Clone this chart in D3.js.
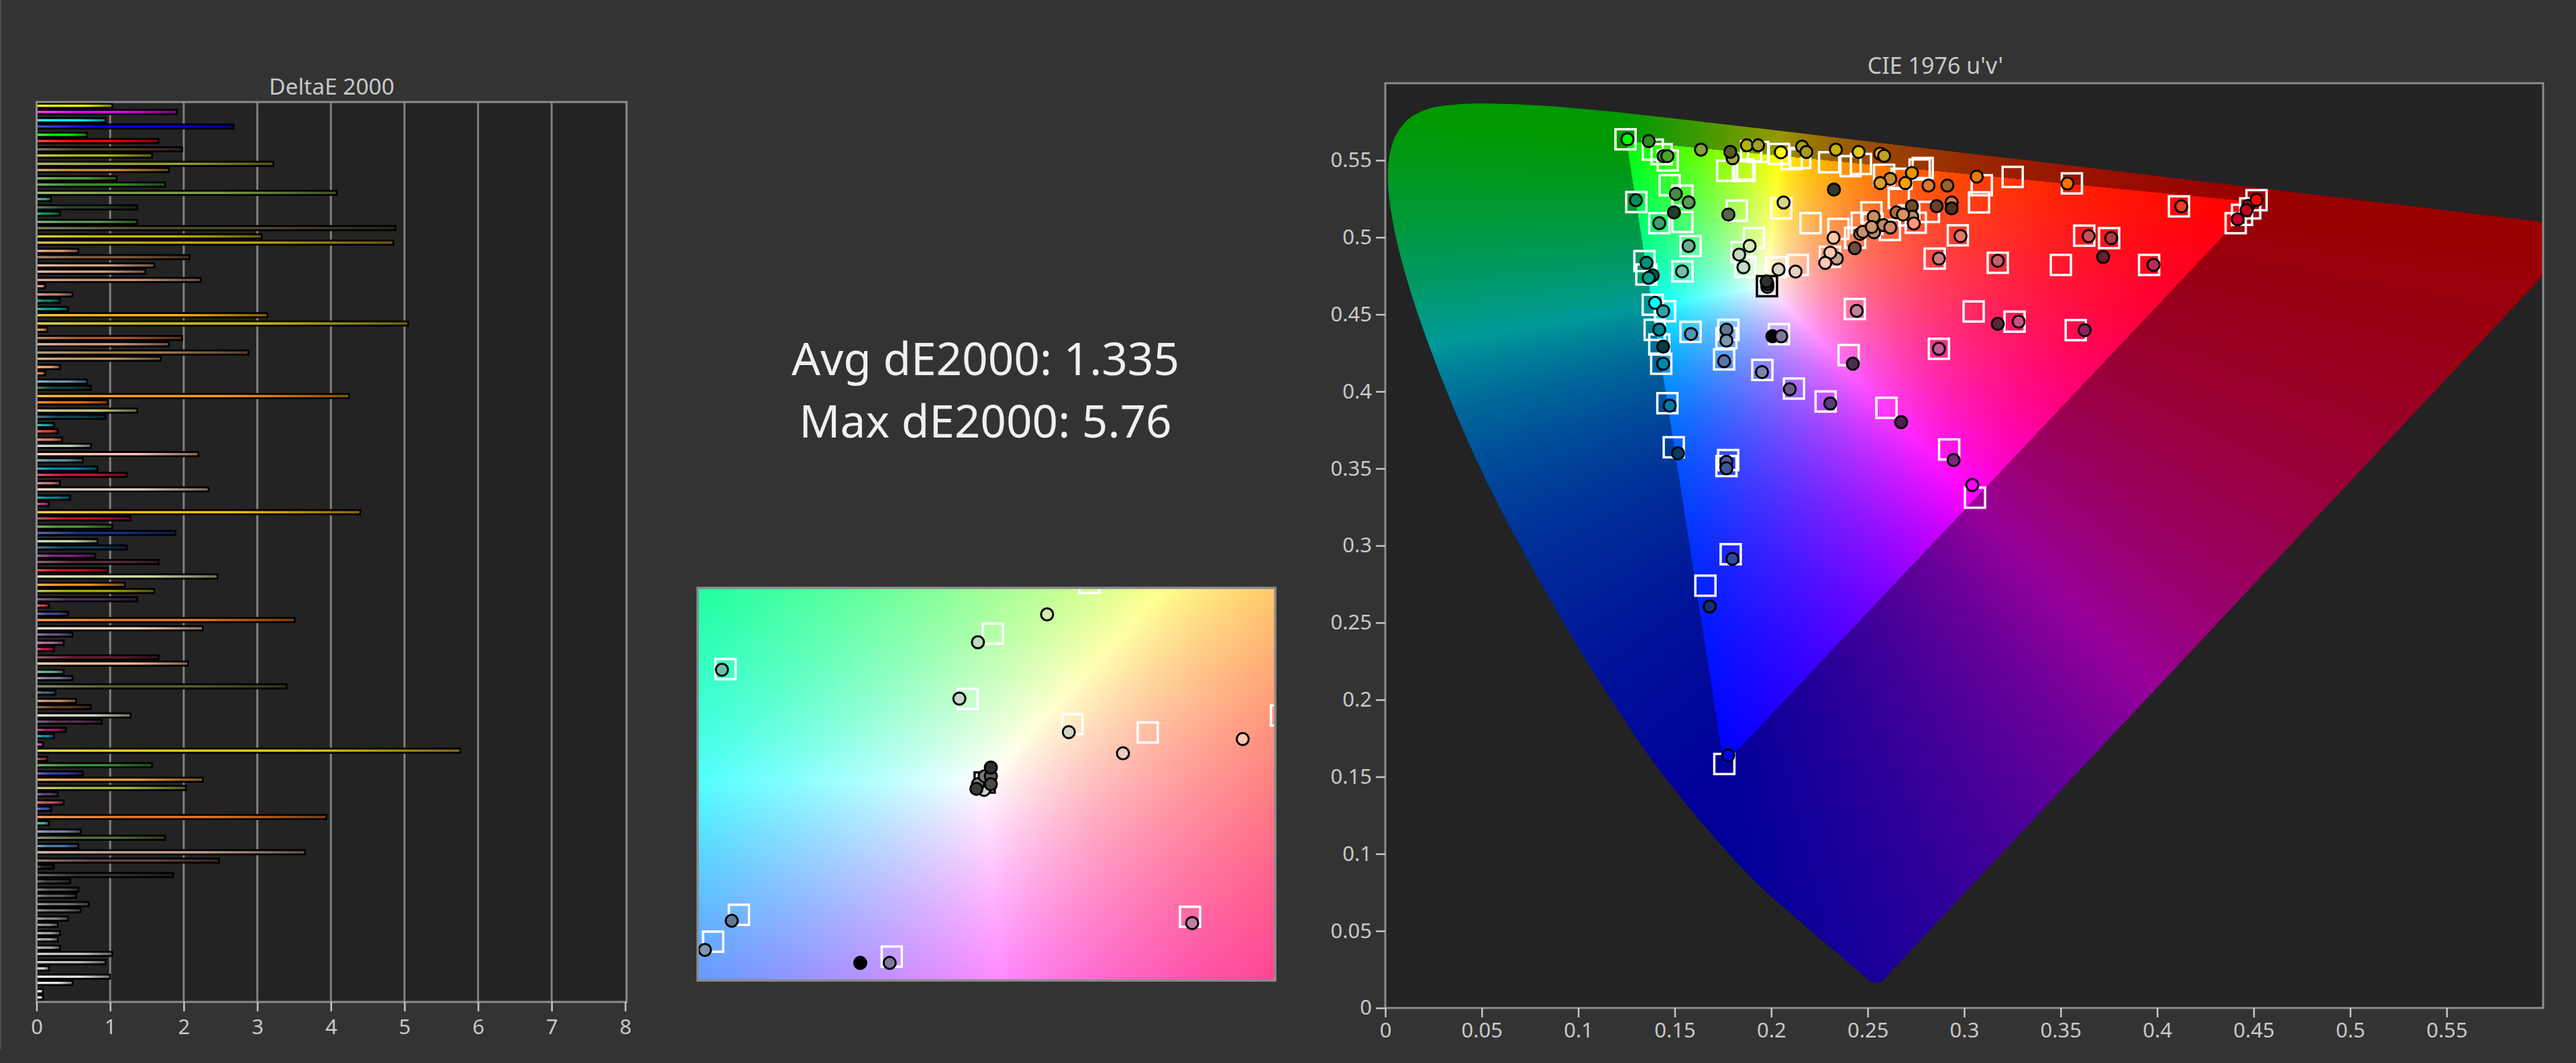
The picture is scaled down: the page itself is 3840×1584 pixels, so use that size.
<!DOCTYPE html>
<html><head><meta charset="utf-8">
<script src="https://cdn.jsdelivr.net/npm/d3@7"></script>
<style>html,body{margin:0;padding:0;background:#333333;overflow:hidden}svg{display:block}text{font-family:"Noto Sans","Open Sans",sans-serif}</style>
</head><body><svg id="c" width="3840" height="1584"></svg>
<script>
// ---------- DeltaE bars ----------
const barValues=[1.04,1.92,0.95,2.69,0.70,1.67,1.99,1.58,3.23,1.81,1.10,1.76,4.09,0.21,1.38,0.33,1.38,4.89,3.07,4.86,0.58,2.09,1.61,1.49,2.24,0.13,0.50,0.33,0.44,3.15,5.06,0.16,1.99,1.81,2.89,1.70,0.33,0.13,0.70,0.75,4.26,0.98,1.38,0.95,0.25,0.30,0.36,0.75,2.21,0.64,0.84,1.24,0.33,2.35,0.47,0.18,4.41,1.29,1.04,1.90,0.84,1.24,0.81,1.67,0.98,2.47,1.21,1.61,1.38,0.18,0.44,3.52,2.27,0.50,0.38,0.25,1.67,2.07,0.38,0.50,3.41,0.27,0.55,0.75,1.29,0.90,0.41,0.25,0.10,5.77,0.16,1.58,0.64,2.27,2.04,0.30,0.38,0.21,3.95,0.18,0.61,1.76,0.58,3.66,2.49,0.25,1.87,0.47,0.58,0.55,0.72,0.61,0.44,0.30,0.33,0.30,0.33,1.04,0.95,0.18,1.01,0.50,0.10,0.10];
const barColors=["#ffff00","#f000f0","#00ffff","#0000ff","#00ff00","#ff0000","#5a3a2a","#b0b810","#a0a030","#c88c3c","#5aa03c","#3c9628","#82a046","#3ca078","#234628","#008c5a","#5a965a","#504b32","#c8b400","#c8a014","#e09678","#825a3c","#d2a082","#d2a082","#c89678","#f09678","#c88264","#00826e","#00a08c","#ffb400","#d2be14","#dc8250","#a05a28","#d2a082","#a07850","#c8915f","#f0a064","#e67832","#6e96b4","#0f4641","#ffa000","#ff6e00","#c8c878","#0f4650","#28a0aa","#ff3c28","#e67864","#c0d2c0","#ffc8aa","#5a96aa","#0082b4","#c8143c","#d27878","#e0cdbe","#00828c","#c83282","#ffbe00","#b41428","#4b962d","#14327d","#bed7af","#0f3c5f","#7d2882","#5f2d41","#d20a1e","#d7e1aa","#e69614","#a0aa0a","#502d5f","#c83c46","#3c4b96","#f0780a","#ffd2b9","#69558c","#aa6e96","#c81450","#641e32","#ffbe91","#64af8c","#7d7896","#556428","#466478","#c88c69","#6e3c1e","#dcd7c8","#553250","#a01e64","#0096aa","#c85aa0","#f0c81e","#b42d32","#3c8c3c","#323ca0","#f0a032","#a0b93c","#643c78","#c3505f","#3c5aaa","#e67828","#46b496","#8282b4","#5a6e3c","#5078aa","#c3a08c","#69463c","#1e1e1e","#323232","#3c3c3c","#555555","#5f5f5f","#737373","#6e6e6e","#878787","#919191","#a5a5a5","#a0a0a0","#aaaaaa","#c3c3c3","#bebebe","#d2d2d2","#e1e1e1","#e6e6e6","#f5f5f5","#ffffff"];
const barTicks=[0,1,2,3,4,5,6,7,8];
// ---------- CIE 1976 spectral locus ----------
const locusU=[.2568,.2522,.2461,.2347,.2161,.1877,.1441,.1147,.0828,.0521,.0282,.0119,.0035,.0014,.0046,.0123,.0231,.0360,.0501,.0792,.1127,.1531,.2026,.2623,.3315,.4035,.4692,.5203,.5565,.5830,.6005,.6234];
const locusV=[.0166,.0169,.0226,.0350,.0549,.0871,.1510,.2044,.2708,.3427,.4117,.4698,.5131,.5432,.5638,.5770,.5837,.5861,.5868,.5856,.5821,.5766,.5694,.5604,.5501,.5393,.5296,.5219,.5165,.5125,.5099,.5065];
const uvTicks=[0,.05,.1,.15,.2,.25,.3,.35,.4,.45,.5,.55];
// ---------- CIE targets (white squares) ----------
const targetU=[.1245,.1386,.1432,.1464,.1474,.1540,.1301,.1420,.1540,.1822,.1772,.1862,.1854,.1896,.1932,.2040,.2106,.2150,.2300,.2411,.2465,.2585,.2769,.2785,.2675,.2052,.2204,.2348,.2661,.2519,.2469,.2525,.2615,.2749,.2817,.2715,.2435,.2967,.2847,.1910,.1846,.1866,.2026,.2138,.2304,.1343,.1353,.1540,.1582,.1386,.1450,.1396,.1420,.1582,.1778,.1768,.1430,.1756,.1954,.2118,.2282,.2597,.2401,.2869,.3049,.2433,.2040,.1462,.3091,.3077,.3251,.3558,.4113,.4515,.4482,.4440,.4407,.3622,.3751,.3174,.3501,.3958,.3261,.3578,.1495,.1777,.1768,.2922,.3056,.1790,.1659,.1757];
const targetV=[.5636,.5569,.5540,.5499,.5338,.5271,.5229,.5092,.5100,.5173,.5432,.5431,.5440,.5558,.5554,.5541,.5507,.5515,.5487,.5462,.5476,.5406,.5440,.5450,.5380,.5188,.5092,.5055,.5255,.5162,.5095,.5087,.5048,.5095,.5165,.5142,.4997,.5013,.4862,.4995,.4904,.4807,.4806,.4821,.4874,.4846,.4759,.4779,.4944,.4563,.4521,.4400,.4305,.4387,.4400,.4345,.4180,.4208,.4140,.4019,.3935,.3894,.4236,.4277,.4519,.4535,.4372,.3924,.5338,.5227,.5392,.5350,.5201,.5241,.5188,.5146,.5092,.5011,.4995,.4835,.4821,.4821,.4453,.4398,.3638,.3555,.3516,.3624,.3311,.2944,.2740,.1583];
const greyTargetU=[.1978], greyTargetV=[.4683];
// ---------- CIE measured (circles) ----------
const measuredU=[.1255,.1365,.1442,.1462,.1636,.1800,.1788,.1874,.1932,.2050,.2160,.2182,.2335,.2453,.2565,.2585,.2729,.2617,.2565,.2695,.2815,.2913,.3065,.2325,.1299,.1506,.1572,.1496,.1778,.2064,.1420,.2729,.2857,.2935,.2935,.2731,.2649,.2683,.2739,.2531,.2581,.2461,.2475,.2533,.2521,.2617,.2981,.2323,.2433,.2869,.1888,.1834,.1856,.1572,.2038,.2126,.2340,.2306,.2280,.1354,.1386,.1365,.1538,.1980,.1980,.1976,.1398,.1440,.1420,.1584,.1768,.1768,.2006,.2052,.2443,.1440,.1440,.1756,.1952,.2096,.2306,.2423,.2869,.2673,.1474,.3535,.4125,.4472,.4515,.4463,.4417,.3645,.3762,.3174,.3720,.3981,.3282,.3174,.3624,.1517,.1768,.1768,.2945,.3042,.1799,.1681,.1777];
const measuredV=[.5636,.5624,.5527,.5527,.5569,.5513,.5555,.5597,.5597,.5552,.5588,.5554,.5569,.5554,.5543,.5529,.5418,.5380,.5352,.5352,.5336,.5336,.5394,.5310,.5241,.5282,.5227,.5162,.5148,.5226,.5092,.5202,.5202,.5226,.5188,.5134,.5162,.5148,.5090,.5134,.5079,.5023,.5036,.5033,.5067,.5064,.5008,.4997,.4930,.4862,.4944,.4888,.4806,.4944,.4792,.4778,.4862,.4901,.4834,.4835,.4753,.4737,.4779,.4678,.4698,.4714,.4575,.4521,.4401,.4373,.4401,.4330,.4358,.4358,.4523,.4291,.4180,.4196,.4126,.4015,.3922,.4180,.4277,.3801,.3908,.5349,.5201,.5204,.5243,.5176,.5117,.5008,.4995,.4848,.4873,.4821,.4453,.4439,.4398,.3599,.3544,.3502,.3555,.3393,.2914,.2605,.1639];
const measuredColors=["#00ff00","#2f8a20","#3f8f2a","#4ca32c","#82a03c","#9aa83c","#555a20","#b4b400","#a0a020","#ffff00","#a8a010","#a89a20","#c8b000","#e6c820","#ffb400","#c0a01e","#e69600","#c88c32","#dca028","#ffa000","#d87830","#a0602c","#e67800","#3c3828","#008c5a","#4a8a4a","#5a9a5a","#1e4028","#556a42","#d8d488","#3fa070","#724a28","#6e4028","#c88050","#503018","#c08858","#a87040","#d89060","#ff9878","#c89060","#c08858","#c89070","#c89070","#c09068","#d09870","#d08860","#e07868","#ffc8a8","#6e4c3c","#d07880","#d8e8b4","#c0d8c0","#c8d8cc","#6cb090","#d8d4c4","#e8d0c4","#c8a090","#ffc8b0","#ffc8b8","#009080","#005a50","#00a090","#6fbfa8","#555555","#444444","#2e2e2e","#00ffff","#30a0a8","#008090","#5098b0","#5f7a90","#7a98b0","#000000","#80789a","#c080a0","#003c48","#0088a8","#5878a0","#8080b0","#6e5888","#5a3c78","#482e52","#c05898","#4e2050","#0078a8","#ff7000","#f03c28","#a00020","#ff0000","#c00020","#c80028","#c85058","#b03848","#c06070","#6a1e30","#c02858","#c85088","#5a2440","#902060","#004060","#5058a0","#405898","#7a2878","#ff00ff","#3048a0","#143070","#0000ff"];
// ---------- Inset: near-white CIE xy ----------
const insetTargetX=[.2626,.3144,.3331,.3095,.3298,.3444,.3702,.3526,.2948,.2652,.2602];
const insetTargetY=[.3628,.3735,.3888,.3538,.3462,.3437,.3488,.2881,.2761,.2887,.2806];
const insetGreyTargetX=[.3128], insetGreyTargetY=[.3286];
const insetX=[.2619,.3115,.3249,.3079,.3291,.3396,.3628,.3530,.2944,.2887,.2638,.2586,.3127,.3115,.3128,.3140,.3140,.3140,.3112];
const insetY=[.3626,.3709,.3793,.3539,.3438,.3374,.3417,.2862,.2742,.2742,.2869,.2781,.3264,.3281,.3305,.3305,.3331,.3281,.3267];
const insetColors=["#6fbfa8","#c0dcc0","#d8e8b4","#c8d8cc","#d8d4c4","#e8d0c4","#ffc8b0","#c080a0","#80789a","#000000","#5f7a90","#7a98b0","#d0d0d0","#888888","#777777","#5c5c5c","#2e2e2e","#4a4a4a","#3a3a3a"];
const statLines=["Avg dE2000: 1.335","Max dE2000: 5.76"];

const svg=d3.select("#c"), defs=svg.append("defs");
const GREY="#8c8c8c", TXT="#c8c8c8", PLOT="#232323";
svg.append("line").attr("x1",1).attr("x2",1).attr("y1",0).attr("y2",1564).attr("stroke","#4a4a4a").attr("stroke-width",2);

function styleAxis(g){g.select(".domain").remove();g.selectAll(".tick line").attr("stroke","#c8c8c8").attr("stroke-width",2.5);
 g.selectAll("text").attr("fill",TXT).attr("font-size",31).attr("font-family",'"Noto Sans"');}
function xyToRgb(x,y,out){
 const X=x/y,Z=(1-x-y)/y;
 let r=3.2406*X-1.5372-.4986*Z,g=-.9689*X+1.8758+.0415*Z,b=.0557*X-.2040+1.0570*Z;
 const inside=r>=0&&g>=0&&b>=0;
 r=Math.max(r,0);g=Math.max(g,0);b=Math.max(b,0);
 const m=Math.max(r,g,b)||1,k=(inside?255:153)/m;
 out[0]=r*k;out[1]=g*k;out[2]=b*k;
}
function fieldImage(w,h,toXY){
 const cv=document.createElement("canvas");cv.width=w;cv.height=h;
 const ctx=cv.getContext("2d"),im=ctx.createImageData(w,h),c=[0,0,0];
 for(let j=0;j<h;j++)for(let i=0;i<w;i++){
  const p=toXY(i+.5,j+.5);xyToRgb(p[0],p[1],c);
  const o=(j*w+i)*4;im.data[o]=c[0];im.data[o+1]=c[1];im.data[o+2]=c[2];im.data[o+3]=255;}
 ctx.putImageData(im,0,0);return cv.toDataURL("image/png");
}

// ===== Bar chart =====
const bx=d3.scaleLinear().domain([0,8]).range([54.5,932]);
const by=d3.scaleBand().domain(d3.range(barValues.length)).range([152,1493]);
const SNAP=3.09;
const bar=svg.append("g");
bar.append("rect").attr("x",bx(0)).attr("y",by.range()[0]).attr("width",bx(8)-bx(0)+2).attr("height",by.range()[1]-by.range()[0]).attr("fill",PLOT);
bar.selectAll(".g").data(barTicks.slice(1,8)).join("line").attr("x1",d=>bx(d)).attr("x2",d=>bx(d)).attr("y1",152).attr("y2",1493).attr("stroke","#808080").attr("stroke-width",3);
barValues.forEach((v,i)=>{
 const c=d3.rgb(barColors[i]),id="bg"+i,grad=defs.append("linearGradient").attr("id",id);
 const st=d3.interpolateRgb(c,"#fff")(.28);
 [[0,st],[.3,c+""],[.6,c+""],[1,d3.rgb(c.r*.52,c.g*.52,c.b*.52)+""]].forEach(s=>grad.append("stop").attr("offset",s[0]).attr("stop-color",s[1]));
 const cy=Math.round((by(i)+by.bandwidth()/2)/SNAP)*SNAP;
 bar.append("rect").attr("x",bx(0)+1).attr("y",cy-4.5).attr("width",bx(v)-bx(0)-1).attr("height",9).attr("fill","#000");
 bar.append("rect").attr("x",bx(0)+1.5).attr("y",cy-1.75).attr("width",Math.max(1,bx(v)-bx(0)-4)).attr("height",3.5).attr("fill",`url(#${id})`);
});
bar.append("rect").attr("x",bx(0)).attr("y",152).attr("width",bx(8)-bx(0)+2).attr("height",1341).attr("fill","none").attr("stroke",GREY).attr("stroke-width",3);
const bxa=svg.append("g").attr("transform","translate(0,1493)").call(d3.axisBottom(bx).tickValues(barTicks).tickFormat(d3.format("d")).tickSize(14).tickPadding(12));
styleAxis(bxa);
svg.append("text").attr("x",494.5).attr("y",141).attr("text-anchor","middle").attr("font-size",33.5).attr("fill",TXT).text("DeltaE 2000");

// ===== Stats =====
svg.selectAll(".stat").data(statLines).join("text").attr("x",1469).attr("y",(d,i)=>559+i*93).attr("text-anchor","middle").attr("font-size",67.5).attr("fill","#f0f0f0").text(d=>d);

// ===== Inset =====
const ix=d3.scaleLinear().domain([.2572,.3691]).range([1040,1901]);
const iy=d3.scaleLinear().domain([.2689,.3873]).range([1461,876]);
const ins=svg.append("g");
defs.append("clipPath").attr("id","insClip").append("rect").attr("x",1040).attr("y",876).attr("width",861).attr("height",585);
ins.append("image").attr("x",1040).attr("y",876).attr("width",861).attr("height",585)
 .attr("href",fieldImage(861,585,(a,b)=>[ix.invert(1040+a),iy.invert(876+b)]));
const insC=ins.append("g").attr("clip-path","url(#insClip)");
function boxes(g,xs,ys,sx,sy,color){
 g.selectAll(null).data(xs).join("rect").attr("x",(d,i)=>sx(d)-15).attr("y",(d,i)=>sy(ys[i])-15).attr("width",30).attr("height",30).attr("fill","none").attr("stroke",color).attr("stroke-width",3.5);
}
function dots(g,xs,ys,cs,sx,sy){
 g.selectAll(null).data(xs).join("circle").attr("cx",d=>sx(d)).attr("cy",(d,i)=>sy(ys[i])).attr("r",9).attr("fill",(d,i)=>cs[i]).attr("stroke","#000").attr("stroke-width",3);
}
boxes(insC,insetTargetX,insetTargetY,ix,iy,"#fff");
boxes(insC,insetGreyTargetX,insetGreyTargetY,ix,iy,"#000");
dots(insC,insetX,insetY,insetColors,ix,iy);
ins.append("rect").attr("x",1040).attr("y",876).attr("width",861).attr("height",585).attr("fill","none").attr("stroke",GREY).attr("stroke-width",3.5);

// ===== CIE =====
const ux=d3.scaleLinear().domain([0,.6]).range([2065,3791]);
const vy=d3.scaleLinear().domain([0,.6]).range([1502,124]);
const cie=svg.append("g");
cie.append("rect").attr("x",2065).attr("y",124).attr("width",1726).attr("height",1378).attr("fill",PLOT);
const locus=d3.line().x(d=>ux(d)).y((d,i)=>vy(locusV[i])).curve(d3.curveCatmullRom.alpha(.5));
defs.append("clipPath").attr("id","locClip").append("path").attr("d",locus(locusU)+"Z");
cie.append("g").attr("clip-path","url(#locClip)").append("image").attr("x",2065).attr("y",124).attr("width",1726).attr("height",1378)
 .attr("href",fieldImage(1726,1378,(a,b)=>{const u=ux.invert(2065+a),v=vy.invert(124+b),d=6*u-16*v+12;return [9*u/d,4*v/d];}));
cie.append("rect").attr("x",2065).attr("y",124).attr("width",1726).attr("height",1378).attr("fill","none").attr("stroke",GREY).attr("stroke-width",3);
boxes(cie,targetU,targetV,ux,vy,"#fff");
boxes(cie,greyTargetU,greyTargetV,ux,vy,"#000");
dots(cie,measuredU,measuredV,measuredColors,ux,vy);
const uxa=svg.append("g").attr("transform","translate(0,1502)").call(d3.axisBottom(ux).tickValues(uvTicks).tickFormat(d=>+d.toFixed(2)+"").tickSize(14).tickPadding(8));
styleAxis(uxa);
const vya=svg.append("g").attr("transform","translate(2065,0)").call(d3.axisLeft(vy).tickValues(uvTicks).tickFormat(d=>+d.toFixed(2)+"").tickSize(14).tickPadding(6));
styleAxis(vya);
svg.append("text").attr("x",2885).attr("y",110).attr("text-anchor","middle").attr("font-size",34).attr("fill",TXT).text("CIE 1976 u'v'");
</script></body></html>
